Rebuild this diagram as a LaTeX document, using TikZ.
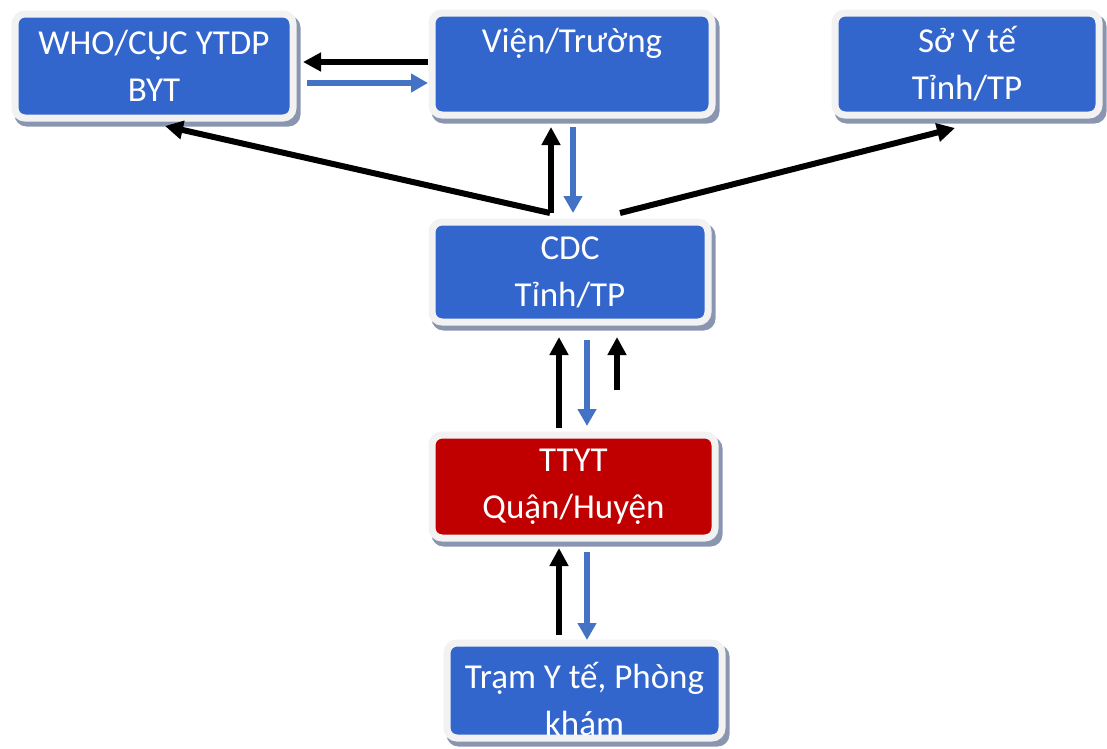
\documentclass[tikz,border=0pt]{standalone}
\usepackage{fontspec}
\setmainfont{Carlito}
\usetikzlibrary{arrows.meta,calc,backgrounds}
\definecolor{boxblue}{RGB}{51,102,204}
\definecolor{boxred}{RGB}{192,0,0}
\definecolor{framec}{RGB}{242,242,242}
\definecolor{shadowc}{RGB}{138,150,176}
\definecolor{arrblue}{RGB}{68,114,196}
\newcommand\mkshadow[1]{\begin{pgfonlayer}{background}\fill[shadowc, rounded corners=12pt] ($(#1.north west)+(-0.5,1.5)$) rectangle ($(#1.south east)+(7.5,8.5)$);\end{pgfonlayer}}
\tikzset{
  orgbox/.style={draw=framec, line width=7pt, fill=boxblue, rounded corners=10pt,
    text=white, align=center, inner sep=0pt, outer sep=0pt,
    font=\fontsize{35}{47}\selectfont},
  blk/.style={line width=6pt, black, line join=miter, -{Triangle[length=18pt,width=18pt]}},
  blu/.style={line width=5.5pt, arrblue, -{Triangle[length=17pt,width=18pt]}},
}
\begin{document}
\begin{tikzpicture}[x=1pt,y=-1pt]
\useasboundingbox (0,0) rectangle (1107,748);
\node[orgbox, minimum width=278pt, minimum height=104pt] (who) at (154,66) {WHO/CỤC YTDP\\BYT};
\node[orgbox, minimum width=280pt, minimum height=102pt] (vien) at (572,64) {Viện/Trường\\\phantom{X}};
\node[orgbox, minimum width=264pt, minimum height=102pt] (so) at (967,64) {Sở Y tế\\Tỉnh/TP};
\node[orgbox, minimum width=276pt, minimum height=100pt] (cdc) at (570,272) {CDC\\Tỉnh/TP};
\node[orgbox, fill=boxred, minimum width=283pt, minimum height=103pt] (ttyt) at (573.5,486.5) {TTYT\\Quận/Huyện};
\node[orgbox, minimum width=275pt, minimum height=95pt] (tram) at (584.5,690.5) {\rule{0pt}{44pt}Trạm Y tế, Phòng\\khám};
\mkshadow{who}\mkshadow{vien}\mkshadow{so}\mkshadow{cdc}\mkshadow{ttyt}\mkshadow{tram}
% top row
\draw[blk] ($(vien.west)+(-4,-2)$) -- ($(who.east)+(10,-4)$);
\draw[blu] ($(who.east)+(14,17)$) -- ($(vien.west)+(-4,19)$);
% CDC - Vien
\draw[blk] ($(cdc.north)+(-19,-9)$) -- ($(vien.south)+(-21,12)$);
\draw[blu] ($(vien.south)+(1,12)$) -- ($(cdc.north)+(3,-9)$);
% CDC - WHO, So
\draw[blk] ($(cdc.north)+(-20,-9)$) -- ($(who.south)+(11,8)$);
\draw[blk] ($(cdc.north)+(50,-9)$) -- ($(so.south)+(-12,13)$);
% TTYT - CDC
\draw[blk] ($(ttyt.north)+(-14.5,-7)$) -- ($(cdc.south)+(-11,15)$);
\draw[blu] ($(cdc.south)+(17,18)$) -- ($(ttyt.north)+(13.5,-9)$);
\coordinate (free) at ($(cdc.south)+(47,68)$);
\draw[blk] (free) -- ($(cdc.south)+(47,15)$);
% Tram - TTYT
\draw[blk] ($(tram.north)+(-25.5,-8)$) -- ($(ttyt.south)+(-14.5,10)$);
\draw[blu] ($(ttyt.south)+(13.5,14)$) -- ($(tram.north)+(2.5,-3)$);
\end{tikzpicture}
\end{document}
